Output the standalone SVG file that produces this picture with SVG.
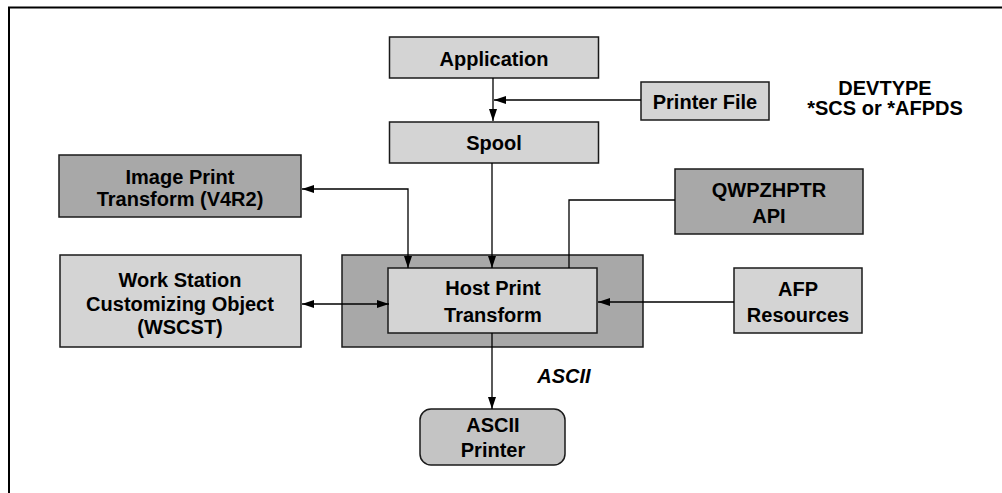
<svg xmlns="http://www.w3.org/2000/svg" width="1002" height="493" viewBox="0 0 1002 493">
<defs>
<marker id="ah" markerUnits="userSpaceOnUse" markerWidth="13" markerHeight="10" refX="12" refY="4" orient="auto-start-reverse">
<path d="M0,0 L12,4 L0,8 z" fill="#000"/>
</marker>
<style>
.lt{fill:#d4d4d4;stroke:#1a1a1a;stroke-width:1.5}
.dk{fill:#a8a8a8;stroke:#1a1a1a;stroke-width:1.5}
.pr{fill:#c4c4c4;stroke:#1a1a1a;stroke-width:1.5}
text{font-family:"Liberation Sans",Arial,sans-serif;font-weight:bold;font-size:20px;fill:#000;text-anchor:middle}
.it{font-style:italic}
.cn{fill:none;stroke:#000;stroke-width:1.3}
</style>
</defs>
<rect width="1002" height="493" fill="#fff"/>
<path d="M9,493 V7.5 H1002" fill="none" stroke="#000" stroke-width="2"/>

<g id="application"><rect class="lt" x="389.5" y="37" width="209" height="41"/><text x="494" y="66">Application</text></g>
<g id="printer-file"><rect class="lt" x="641" y="82" width="128" height="38"/><text x="705" y="109">Printer File</text></g>
<g id="devtype"><text x="885" y="95">DEVTYPE</text><text x="885" y="115">*SCS or *AFPDS</text></g>
<g id="spool"><rect class="lt" x="389.5" y="122" width="209" height="41"/><text x="494" y="150">Spool</text></g>
<g id="image-print"><rect class="dk" x="59" y="155" width="242" height="62"/><text x="180" y="184">Image Print</text><text x="180" y="206">Transform (V4R2)</text></g>
<g id="qwpzhptr"><rect class="dk" x="675" y="169" width="188" height="65"/><text x="769" y="197">QWPZHPTR</text><text x="769" y="223">API</text></g>
<g id="wscst"><rect class="lt" x="60" y="255" width="241" height="92"/><text x="180" y="287">Work Station</text><text x="180" y="311">Customizing Object</text><text x="180" y="334">(WSCST)</text></g>
<g id="host-print"><rect class="dk" x="342" y="255" width="301" height="92"/><rect class="lt" x="388" y="268" width="209" height="65"/><text x="493" y="295">Host Print</text><text x="493" y="322">Transform</text></g>
<g id="afp"><rect class="lt" x="734" y="268" width="128" height="65"/><text x="798" y="296">AFP</text><text x="798" y="322">Resources</text></g>
<g id="ascii-printer"><rect class="pr" x="420" y="409" width="145" height="56" rx="11" ry="11"/><text x="493" y="432">ASCII</text><text x="493" y="457">Printer</text></g>
<g id="ascii-label"><text class="it" x="564" y="383">ASCII</text></g>

<g id="connectors">
<path class="cn" d="M493,78 V121" marker-end="url(#ah)"/>
<path class="cn" d="M641,100 H494" marker-end="url(#ah)"/>
<path class="cn" d="M492,163 V268" marker-end="url(#ah)"/>
<path class="cn" d="M302,189 H408 V268" marker-start="url(#ah)" marker-end="url(#ah)"/>
<path class="cn" d="M302,304 H389" marker-start="url(#ah)" marker-end="url(#ah)"/>
<path class="cn" d="M569,268 V200 H675"/>
<path class="cn" d="M734,302 H598" marker-end="url(#ah)"/>
<path class="cn" d="M492,333 V409" marker-end="url(#ah)"/>
</g>
</svg>
